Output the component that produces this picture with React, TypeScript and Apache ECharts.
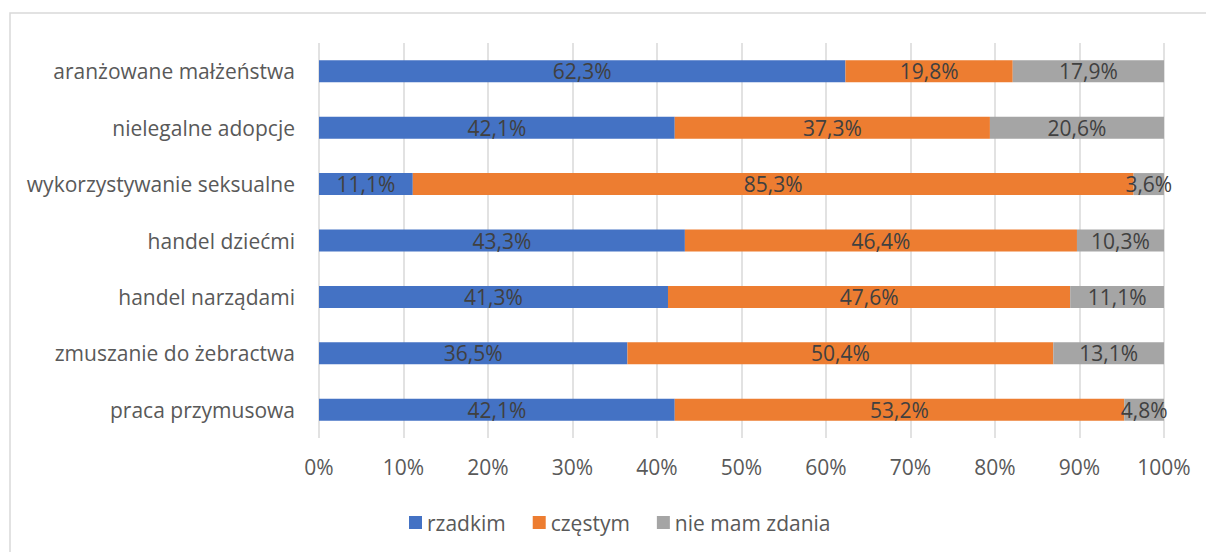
import React, { useEffect, useRef } from "react";
import * as echarts from "echarts";

const categories = [
  "aranżowane małżeństwa",
  "nielegalne adopcje",
  "wykorzystywanie seksualne",
  "handel dziećmi",
  "handel narządami",
  "zmuszanie do żebractwa",
  "praca przymusowa",
];
const seriesNames = ["rzadkim", "częstym", "nie mam zdania"];
const rzadkim = [62.3, 42.1, 11.1, 43.3, 41.3, 36.5, 42.1];
const czestym = [19.8, 37.3, 85.3, 46.4, 47.6, 50.4, 53.2];
const nieMamZdania = [17.9, 20.6, 3.6, 10.3, 11.1, 13.1, 4.8];
const colors = ["#4472C4", "#ED7D31", "#A5A5A5"];

const FONT = "'Open Sans', 'Noto Sans', sans-serif";
const FS = 21;

export default function App() {
  const ref = useRef<HTMLDivElement>(null);
  useEffect(() => {
    document.body.style.margin = "0";
    const chart = echarts.init(ref.current!, null, { renderer: "svg" });
    const fmt = (p: any) => p.value.toFixed(1).replace(".", ",") + "%";
    const mk = (name: string, data: number[], color: string) => ({
      name,
      type: "bar",
      stack: "total",
      data,
      barWidth: 22,
      itemStyle: { color },
      label: {
        show: true,
        position: "inside",
        formatter: fmt,
        color: "#404040",
        fontSize: FS,
        fontFamily: FONT,
      },
    });
    chart.setOption({
      animation: false,
      backgroundColor: "#ffffff",
      graphic: [
        {
          type: "rect",
          shape: { x: 10, y: 13, width: 1210, height: 560 },
          style: { fill: "none", stroke: "#d9d9d9", lineWidth: 1.5 },
          z: -1,
        },
      ],
      grid: { left: 319, right: 42, top: 43, bottom: 114 },
      legend: {
        data: seriesNames,
        left: 404,
        top: 507,
        itemWidth: 13,
        itemHeight: 13,
        itemGap: 27,
        icon: "rect",
        textStyle: { color: "#595959", fontSize: FS, fontFamily: FONT },
      },
      xAxis: {
        type: "value",
        min: 0,
        max: 100,
        interval: 10,
        axisLine: { show: false },
        axisTick: { show: false },
        splitLine: { show: true, lineStyle: { color: "#d9d9d9", width: 1.5 } },
        axisLabel: {
          formatter: (v: number) => v + "%",
          color: "#595959",
          fontSize: FS,
          fontFamily: FONT,
          margin: 18,
        },
      },
      yAxis: {
        type: "category",
        data: categories,
        inverse: true,
        axisLine: { show: false },
        axisTick: { show: false },
        axisLabel: {
          color: "#595959",
          fontSize: FS,
          fontFamily: FONT,
          margin: 24,
        },
      },
      series: [
        mk(seriesNames[0], rzadkim, colors[0]),
        mk(seriesNames[1], czestym, colors[1]),
        mk(seriesNames[2], nieMamZdania, colors[2]),
      ],
    });
    return () => chart.dispose();
  }, []);
  return <div ref={ref} style={{ width: 1206, height: 552 }} />;
}
